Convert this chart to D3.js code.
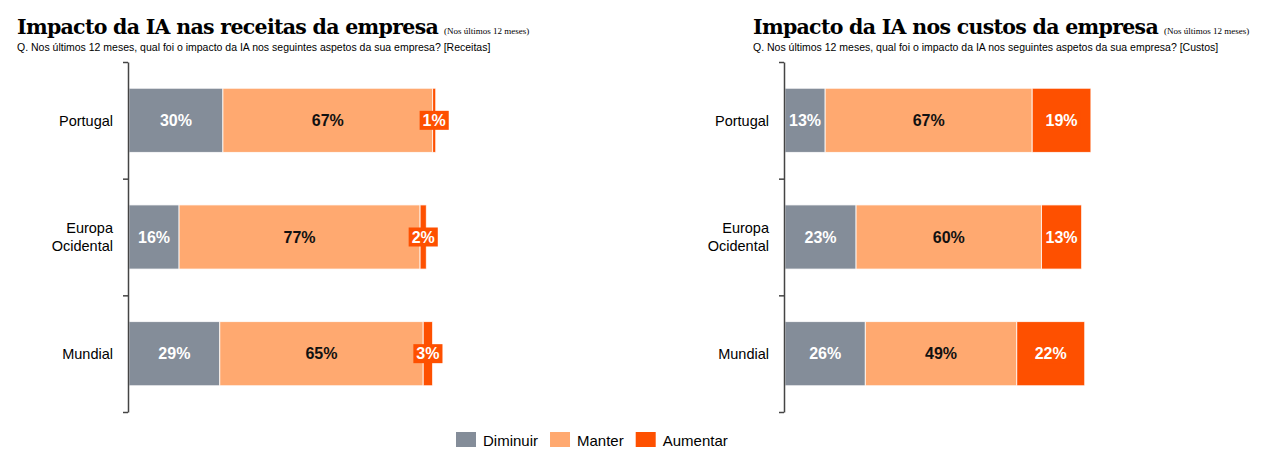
<!DOCTYPE html>
<html>
<head>
<meta charset="utf-8">
<script src="https://cdn.jsdelivr.net/npm/d3@7"></script>
<style>
  body { margin: 0; background: #fff; }
  svg { display: block; }
</style>
</head>
<body>
<div id="chart"></div>
<script>
// donnees
var categories = ["Portugal", "Europa Ocidental", "Mundial"];
var series = ["Diminuir", "Manter", "Aumentar"];
var couleurs = ["#848d99", "#ffa970", "#fe5000"];

var receitasDiminuir = [30, 16, 29];
var receitasManter = [67, 77, 65];
var receitasAumentar = [1, 2, 3];

var custosDiminuir = [13, 23, 26];
var custosManter = [67, 60, 49];
var custosAumentar = [19, 13, 22];

const width = 1261, height = 472;

var svg = d3.select("#chart")
  .append("svg")
  .attr("width", width)
  .attr("height", height);

function rows(dim, man, aum) {
  return categories.map(function (c, i) {
    return { cat: c, values: [dim[i], man[i], aum[i]] };
  });
}

var panels = [
  { x: 17, axisX: 128, w: 313, title: "Impacto da IA nas receitas da empresa",
    question: "Q. Nos últimos 12 meses, qual foi o impacto da IA nos seguintes aspetos da sua empresa? [Receitas]",
    data: rows(receitasDiminuir, receitasManter, receitasAumentar) },
  { x: 753, axisX: 784, w: 309, title: "Impacto da IA nos custos da empresa",
    question: "Q. Nos últimos 12 meses, qual foi o impacto da IA nos seguintes aspetos da sua empresa? [Custos]",
    data: rows(custosDiminuir, custosManter, custosAumentar) }
];

var y = d3.scaleBand()
  .domain(categories)
  .range([62, 412])
  .paddingInner(0.45)
  .paddingOuter(0.225);

var yTicks = d3.scaleLinear().domain([0, 3]).range([62, 412]);

panels.forEach(function (p) {
  var g = svg.append("g");

  // titre
  var t = g.append("text")
    .attr("x", p.x).attr("y", 34)
    .style("font-family", "'DejaVu Serif', serif")
    .style("font-weight", "bold")
    .style("font-size", "20.5px")
    .style("letter-spacing", "-0.7px")
    .attr("fill", "#000");
  t.append("tspan").text(p.title);
  t.append("tspan")
    .attr("dx", 6)
    .style("font-family", "'Liberation Serif', serif")
    .style("font-size", "9px")
    .style("font-weight", "normal")
    .style("letter-spacing", "0px")
    .text("(Nos últimos 12 meses)");

  g.append("text")
    .attr("x", p.x).attr("y", 51)
    .style("font-family", "'Liberation Sans', Arial, sans-serif")
    .style("font-size", "10.5px")
    .attr("fill", "#000")
    .text(p.question);

  var x = d3.scaleLinear().domain([0, 100]).range([p.axisX + 1, p.axisX + 1 + p.w]);

  // barres
  var bars = g.append("g");
  p.data.forEach(function (d) {
    var acc = 0;
    d.seg = [];
    d.values.forEach(function (v, k) {
      var x0 = x(acc), x1 = x(acc + v);
      acc += v;
      bars.append("rect")
        .attr("x", x0)
        .attr("y", y(d.cat))
        .attr("width", x1 - x0)
        .attr("height", y.bandwidth())
        .attr("fill", couleurs[k])
        .attr("stroke", "#fff")
        .attr("stroke-opacity", 0.8)
        .attr("stroke-width", 1);
      d.seg.push([x0, x1]);
    });
  });

  // etiquettes
  var labels = g.append("g")
    .style("font-family", "'Liberation Sans', Arial, sans-serif")
    .style("font-size", "16px")
    .style("font-weight", "bold");
  p.data.forEach(function (d) {
    d.values.forEach(function (v, k) {
      var cx = (d.seg[k][0] + d.seg[k][1]) / 2;
      var cy = y(d.cat) + y.bandwidth() / 2;
      var lab = labels.append("g");
      var txt = lab.append("text")
        .attr("x", cx).attr("y", cy)
        .attr("dy", "0.36em")
        .attr("text-anchor", "middle")
        .attr("fill", k == 1 ? "#111" : "#fff")
        .text(v + "%");
      if (k == 2) {
        var w = txt.node().getComputedTextLength();
        lab.insert("rect", "text")
          .attr("x", cx - w / 2 - 3)
          .attr("y", cy - 9.5)
          .attr("width", w + 6)
          .attr("height", 19)
          .attr("fill", couleurs[2]);
      }
    });
  });

  // axe
  var axis = g.append("g")
    .attr("transform", "translate(" + p.axisX + ",0)")
    .call(d3.axisLeft(yTicks).tickValues([0, 1, 2, 3]).tickSize(5).tickSizeOuter(0).tickFormat(""));
  axis.selectAll("path, line").attr("stroke", "#444").attr("stroke-width", 1.5);

  // categories
  var cats = g.append("g")
    .style("font-family", "'Liberation Sans', Arial, sans-serif")
    .style("font-size", "14.5px")
    .attr("fill", "#000");
  categories.forEach(function (c) {
    var lines = c.length > 10 ? c.split(" ") : [c];
    var cy = y(c) + y.bandwidth() / 2;
    var txt = cats.append("text")
      .attr("text-anchor", "end")
      .attr("x", p.axisX - 15);
    lines.forEach(function (l, i) {
      txt.append("tspan")
        .attr("x", p.axisX - 15)
        .attr("y", cy + (i - (lines.length - 1) / 2) * 18)
        .attr("dy", "0.36em")
        .text(l);
    });
  });
});

// legende
var legend = svg.append("g")
  .style("font-family", "'Liberation Sans', Arial, sans-serif")
  .style("font-size", "15px");
var lx = 456;
series.forEach(function (s, k) {
  legend.append("rect")
    .attr("x", lx).attr("y", 432)
    .attr("width", 20).attr("height", 15)
    .attr("fill", couleurs[k]);
  var t = legend.append("text")
    .attr("x", lx + 27).attr("y", 445.5)
    .attr("fill", "#000")
    .text(s);
  lx += 27 + t.node().getComputedTextLength() + 12;
});
</script>
</body>
</html>
